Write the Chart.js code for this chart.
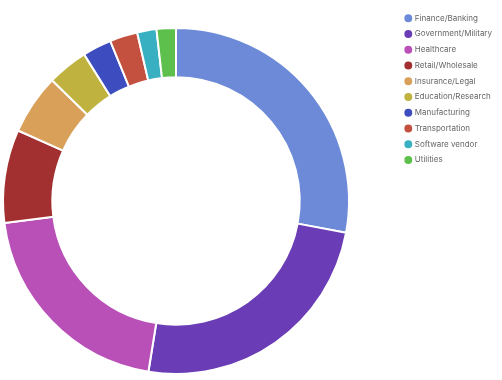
<!DOCTYPE html>
<html>
<head>
<meta charset="utf-8">
<script src="https://cdn.jsdelivr.net/npm/chart.js@4.4.1/dist/chart.umd.min.js"></script>
<style>
html,body{margin:0;padding:0;background:#fff;}
#wrap{width:502px;height:380px;position:relative;}
</style>
</head>
<body>
<div id="wrap"><canvas id="c" width="502" height="380"></canvas></div>
<script>
const categories = ["Finance/Banking","Government/Military","Healthcare","Retail/Wholesale","Insurance/Legal","Education/Research","Manufacturing","Transportation","Software vendor","Utilities"];
const shares = [27.9, 24.6, 20.4, 8.7, 5.6, 3.8, 2.7, 2.6, 1.8, 1.8];
const sliceColors = ["#6c8ad8","#6a3cb5","#b850b8","#a33030","#d9a05a","#bfb23e","#3d4cbf","#c4503f","#38b0c2","#5dbf4c"];

// place the ring's plotting area where the reference has it
const ringArea = {
  id: 'ringArea',
  afterLayout(chart) {
    const left = 3, right = 349, top = 28, bottom = 374;
    chart.chartArea = { left, right, top, bottom, width: right - left, height: bottom - top };
  }
};

new Chart(document.getElementById('c'), {
  type: 'doughnut',
  data: {
    labels: categories,
    datasets: [{
      data: shares,
      backgroundColor: sliceColors,
      borderColor: '#ffffff',
      borderWidth: 2,
      radius: 173,
      cutout: '71.5%',
      clip: false
    }]
  },
  options: {
    responsive: false,
    animation: false,
    layout: { padding: { left: 0, right: 0, top: 6.5, bottom: 0 } },
    plugins: {
      tooltip: { enabled: false },
      legend: {
        position: 'right',
        align: 'start',
        labels: {
          usePointStyle: true,
          pointStyle: 'circle',
          boxWidth: 5,
          boxHeight: 7,
          padding: 7.75,
          color: '#666666',
          font: { family: 'Inter', size: 8 }
        }
      }
    }
  },
  plugins: [ringArea]
});
</script>
</body>
</html>
